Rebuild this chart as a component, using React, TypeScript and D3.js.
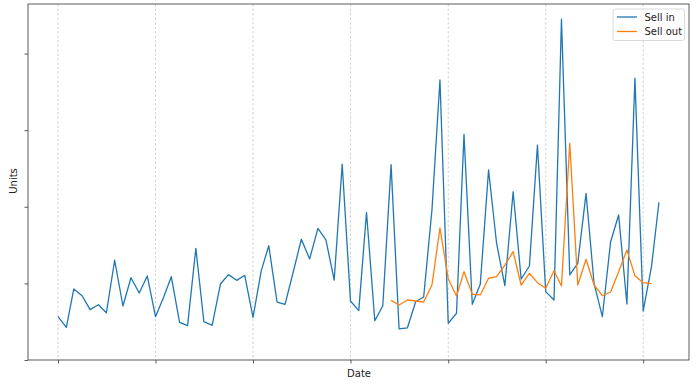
import React, { useEffect, useRef } from 'react'
import * as d3 from 'd3'

// monthly values, first month = Jan 2013
const startYear = 2013
const sellIn = [
  565, 427, 927, 839, 657, 722, 617, 1302, 705, 1074, 875, 1097,
  565, 826, 1087, 492, 448, 1458, 500, 453, 992, 1114, 1040, 1106,
  557, 1166, 1492, 757, 727, 1155, 1576, 1319, 1719, 1567, 1044, 2555,
  770, 644, 1928, 513, 709, 2550, 405, 418, 761, 822, 1958, 3655,
  479, 610, 2946, 727, 988, 2480, 1524, 970, 2197, 1057, 1227, 2803,
  892, 783, 4448, 1110, 1262, 2176, 1001, 565, 1544, 1893, 731, 3678,
  640, 1218, 2059,
]
// sell out starts at month index 41
const sellOutStart = 41
const sellOut = [
  779, 718, 783, 770, 757, 979, 1723,
  1061, 836, 1153, 858, 849, 1067, 1087, 1240, 1414, 979, 1132, 1009,
  936, 1166, 966, 2829, 979, 1315, 979, 839, 888, 1153, 1436, 1101, 1009,
  996,
]
const yTicks = [0, 1000, 2000, 3000, 4000]
const seriesNames = ['Sell in', 'Sell out']
const colors = ['#1f77b4', '#ff7f0e']

const monthDate = (i: number) => new Date(startYear, i, 1)

const App = () => {
  const ref = useRef<SVGSVGElement>(null)

  useEffect(() => {
    const W = 700
    const H = 389
    const m = { top: 4, right: 11, bottom: 29, left: 28 }
    const svg = d3.select(ref.current)
    svg.selectAll('*').remove()
    svg.attr('width', W).attr('height', H)

    const inPts = sellIn.map((v, i) => ({ d: monthDate(i), v }))
    const outPts = sellOut.map((v, i) => ({ d: monthDate(sellOutStart + i), v }))

    const t0 = +inPts[0].d
    const t1 = +inPts[inPts.length - 1].d
    const pad = (t1 - t0) * 0.05
    const x = d3
      .scaleTime()
      .domain([new Date(t0 - pad), new Date(t1 + pad)])
      .range([m.left, W - m.right])
    const y = d3.scaleLinear().domain([0, 4647]).range([H - m.bottom, m.top])

    const xTicks = d3.range(startYear, startYear + 7).map((yr) => new Date(yr, 0, 1))

    // grid
    svg
      .append('g')
      .selectAll('line')
      .data(xTicks)
      .join('line')
      .attr('x1', (d) => x(d))
      .attr('x2', (d) => x(d))
      .attr('y1', m.top)
      .attr('y2', H - m.bottom)
      .attr('stroke', '#c8c8c8')
      .attr('stroke-width', 0.8)
      .attr('stroke-dasharray', '2.5,2')

    const line = d3
      .line<{ d: Date; v: number }>()
      .x((p) => x(p.d))
      .y((p) => y(p.v))

    svg
      .append('path')
      .datum(inPts)
      .attr('d', line)
      .attr('fill', 'none')
      .attr('stroke', colors[0])
      .attr('stroke-width', 1.3)
      .attr('stroke-linejoin', 'round')

    svg
      .append('path')
      .datum(outPts)
      .attr('d', line)
      .attr('fill', 'none')
      .attr('stroke', colors[1])
      .attr('stroke-width', 1.3)
      .attr('stroke-linejoin', 'round')

    // axes (labels hidden)
    const xAxis = svg
      .append('g')
      .attr('transform', `translate(0,${H - m.bottom})`)
      .call(d3.axisBottom(x).tickValues(xTicks).tickFormat(() => '').tickSize(3.5).tickSizeOuter(0))
    const yAxis = svg
      .append('g')
      .attr('transform', `translate(${m.left},0)`)
      .call(d3.axisLeft(y).tickValues(yTicks).tickFormat(() => '').tickSize(3.5).tickSizeOuter(0))
    ;[xAxis, yAxis].forEach((g) => {
      g.select('.domain').remove()
      g.selectAll('line').attr('stroke', '#333').attr('stroke-width', 0.8)
    })

    // frame
    svg
      .append('rect')
      .attr('x', m.left)
      .attr('y', m.top)
      .attr('width', W - m.left - m.right)
      .attr('height', H - m.top - m.bottom)
      .attr('fill', 'none')
      .attr('stroke', '#333')
      .attr('stroke-width', 0.8)

    svg
      .append('text')
      .attr('x', 359)
      .attr('y', 377)
      .attr('text-anchor', 'middle')
      .attr('font-family', 'DejaVu Sans')
      .attr('font-size', 10)
      .attr('fill', '#222')
      .text('Date')

    svg
      .append('text')
      .attr('transform', `translate(17,181) rotate(-90)`)
      .attr('text-anchor', 'middle')
      .attr('font-family', 'DejaVu Sans')
      .attr('font-size', 10)
      .attr('fill', '#222')
      .text('Units')

    // legend
    const lg = svg.append('g').attr('transform', 'translate(613,9)')
    lg.append('rect')
      .attr('width', 71.5)
      .attr('height', 31.5)
      .attr('rx', 2)
      .attr('fill', 'white')
      .attr('fill-opacity', 0.8)
      .attr('stroke', '#d0d0d0')
      .attr('stroke-width', 0.8)
    seriesNames.forEach((name, i) => {
      const cy = 8 + i * 14.5
      lg.append('line')
        .attr('x1', 4)
        .attr('x2', 24)
        .attr('y1', cy)
        .attr('y2', cy)
        .attr('stroke', colors[i])
        .attr('stroke-width', 1.3)
      lg.append('text')
        .attr('x', 31.5)
        .attr('y', cy + 3.6)
        .attr('font-family', 'DejaVu Sans')
        .attr('font-size', 10)
        .attr('fill', '#222')
        .text(name)
    })
  }, [])

  return <svg ref={ref} style={{ position: 'absolute', left: 0, top: 0 }}></svg>
}

export default App
